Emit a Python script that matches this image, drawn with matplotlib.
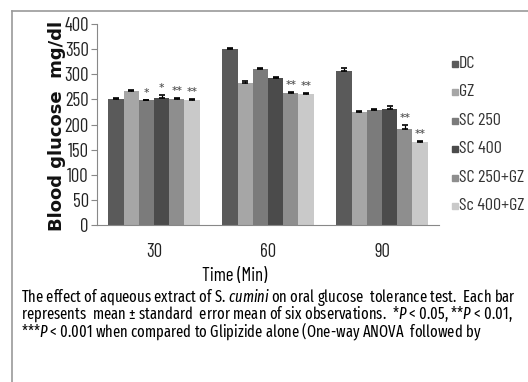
import matplotlib
matplotlib.use("Agg")
import matplotlib.pyplot as plt
import numpy as np
from matplotlib.font_manager import findfont, FontProperties
from matplotlib.patches import Rectangle

# data
times = ["30", "60", "90"]
groups = ["DC", "GZ", "SC 250", "SC 400", "SC 250+GZ", "Sc 400+GZ"]
means = [
    [250, 351, 307],   # DC
    [266, 282, 225],   # GZ
    [248, 311, 228],   # SC 250
    [253, 292, 231],   # SC 400
    [251, 263, 191],   # SC 250+GZ
    [248, 260, 165],   # Sc 400+GZ
]
errors = [
    [2, 1, 5],
    [2, 5, 2],
    [1, 1, 2],
    [6, 2, 5],
    [1, 2, 8],
    [2, 2, 2],
]
stars = [
    ["", "", ""],
    ["", "", ""],
    ["*", "", ""],
    ["*", "", ""],
    ["**", "**", "**"],
    ["**", "**", "**"],
]
colors = ["#5a5a5a", "#a6a6a6", "#7b7b7b", "#4b4b4b", "#8e8e8e", "#c9c9c9"]


def first_font(candidates):
    for fam in candidates:
        try:
            findfont(FontProperties(family=fam), fallback_to_default=False)
            return fam
        except Exception:
            pass
    return "DejaVu Sans"


# condensed fonts close to the squeezed Arial Narrow of the source
narrow = first_font(["Barlow Condensed", "Archivo Narrow", "Liberation Sans Narrow"])
cap_font = first_font(["Fira Sans Extra Condensed", "Saira Extra Condensed", "Barlow Condensed",
                       "Archivo Narrow"])
plt.rcParams["font.family"] = [narrow, "DejaVu Sans"]
plt.rcParams["mathtext.fontset"] = "custom"
plt.rcParams["mathtext.rm"] = cap_font
plt.rcParams["mathtext.it"] = cap_font + ":italic"

W, H = 528, 382
fig = plt.figure(figsize=(W / 100, H / 100), dpi=100)
ax = fig.add_axes([97 / W, 1 - 225 / H, 342 / W, 201 / H])

# outer frame (left and top only, as in the source image)
fig.add_artist(plt.Line2D([11.5 / W, 11.5 / W], [0, 1 - 10.5 / H], color="#9a9a9a", lw=1.2))
fig.add_artist(plt.Line2D([11.5 / W, 1], [1 - 10.5 / H, 1 - 10.5 / H], color="#9a9a9a", lw=1.2))

x = np.arange(len(times))
n = len(groups)
width = 1 / 7.5
for i in range(n):
    pos = x + (i - (n - 1) / 2) * width
    ax.bar(pos, means[i], width, color=colors[i], zorder=2)
    ax.errorbar(pos, means[i], yerr=[[0] * len(times), errors[i]], fmt="none",
                ecolor="black", elinewidth=0.9, capsize=2.5, capthick=1.2, zorder=3)
    for j in range(len(times)):
        if stars[i][j]:
            ax.text(pos[j], means[i][j] + errors[i][j] - 4, stars[i][j], ha="center",
                    va="bottom", fontsize=11, color="#555555")

ax.set_xlim(-0.5, 2.5)
ax.set_ylim(0, 400)
ax.set_yticks(range(0, 401, 50))
ax.set_xticks(x)
ax.set_xticklabels(times)
for s in ["top", "right"]:
    ax.spines[s].set_visible(False)
ax.spines["left"].set_color("#888888")
ax.spines["bottom"].set_color("#888888")
ax.tick_params(axis="y", length=4, color="#888888", labelsize=13.5, labelcolor="#222222", pad=2)
ax.tick_params(axis="x", length=0, labelsize=13.5, labelcolor="#222222", pad=13)

fig.text(57 / W, 1 - 126 / H, "Blood glucose  mg/dl", rotation=90, ha="center", va="center",
         fontsize=13, fontweight="bold", family="DejaVu Sans", color="#111111")

# legend drawn as in the source: small squares with labels, one per row
for i, g in enumerate(groups):
    yc = 63.5 + 28.5 * i
    fig.add_artist(Rectangle((452 / W, 1 - (yc + 3) / H), 6 / W, 6 / H, transform=fig.transFigure,
                             color=colors[i]))
    fig.text(459 / W, 1 - yc / H, g, ha="left", va="center", fontsize=13, color="#333333")

fig.text(235 / W, 1 - 276 / H, "Time (Min)", ha="center", va="center", fontsize=13.5)
caption = [
    r"The effect of aqueous extract of S. $\it{cumini}$ on oral glucose  tolerance test.  Each bar",
    r"represents  mean $\pm$ standard  error mean of six observations.  *$\it{P}$ < 0.05, **$\it{P}$ < 0.01,",
    r"***$\it{P}$ < 0.001 when compared to Glipizide alone (One-way ANOVA  followed by",
]
texts = [fig.text(21 / W, 1 - (297 + 17.6 * k) / H, line, ha="left", va="center", fontsize=13,
                  family=[cap_font, "DejaVu Sans"])
         for k, line in enumerate(caption)]

# scale the caption so its first line spans the same width as in the source
r = fig.canvas.get_renderer()
w0 = texts[0].get_window_extent(r).width
size = 13 * 495 / w0
for t in texts:
    t.set_fontsize(size)

fig.savefig("out.png", dpi=100)
